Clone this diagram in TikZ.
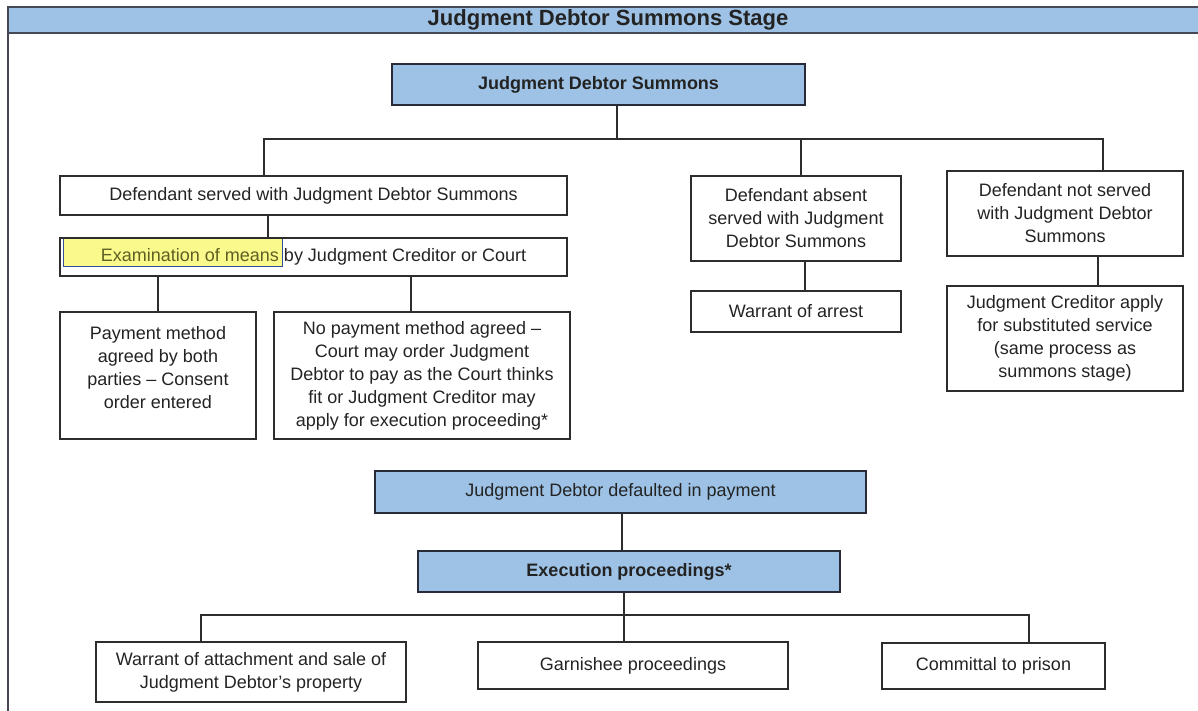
\documentclass[tikz,border=0pt]{standalone}
\usepackage{fontspec}
\setmainfont{Liberation Sans}
\definecolor{boxblue}{RGB}{157,194,229}
\definecolor{linec}{RGB}{45,45,45}
\definecolor{navy}{RGB}{40,44,58}
\definecolor{textc}{RGB}{35,35,35}
\definecolor{hlyellow}{RGB}{250,250,140}
\definecolor{hlborder}{RGB}{50,80,150}
\definecolor{hltext}{RGB}{95,95,35}
\definecolor{framec}{RGB}{70,72,85}
\begin{document}
\begin{tikzpicture}[x=1pt,y=-1pt,
  box/.style={draw=linec, line width=1.2pt, inner sep=0pt, align=center, text=textc,
              font=\fontsize{18}{23}\selectfont},
  bluebox/.style={box, draw=navy, line width=1.6pt, fill=boxblue},
  boldtext/.style={font=\fontsize{18}{23}\selectfont\bfseries},
  conn/.style={draw=linec, line width=1.2pt},
  titletext/.style={font=\fontsize{22}{26}\selectfont\bfseries, text=textc, inner sep=0pt}]
\useasboundingbox (0,0) rectangle (1198,711);
% frame and title bar
\fill[boxblue] (8,7) rectangle (1198,33);
\draw[framec, line width=2.5pt] (8,7) -- (1198,7);
\draw[framec, line width=2.5pt] (8,33) -- (1198,33);
\draw[framec, line width=2pt] (8,6) -- (8,711);
\node[titletext] (title) at (608,20) {Judgment Debtor Summons Stage};

% top
\node[bluebox, boldtext, minimum width=413pt, minimum height=41pt] (jds) at (598.5,84.5) {Judgment Debtor Summons};
\node[box, minimum width=507pt, minimum height=39pt] (served) at (313.5,195.5) {Defendant served with Judgment Debtor Summons};
\filldraw[fill=hlyellow, draw=hlborder, line width=1pt] (63,239) rectangle (282,266);
\node[box, minimum width=507pt, minimum height=38pt] (exam) at (313.5,257) {\textcolor{hltext}{Examination of means} by Judgment Creditor or Court};
\node[box, minimum width=196pt, minimum height=127pt] (pay) at (158,375.5) {\parbox[c][98pt][t]{190pt}{\centering Payment method\\agreed by both\\parties – Consent\\order entered}};
\node[box, minimum width=296pt, minimum height=127pt] (nopay) at (422,375.5) {No payment method agreed –\\Court may order Judgment\\Debtor to pay as the Court thinks\\fit or Judgment Creditor may\\apply for execution proceeding*};
\node[box, minimum width=210pt, minimum height=85pt] (absent) at (796,218.5) {Defendant absent\\served with Judgment\\Debtor Summons};
\node[box, minimum width=210pt, minimum height=41pt] (arrest) at (796,311.5) {Warrant of arrest};
\node[box, minimum width=236pt, minimum height=85pt] (notserved) at (1065,213.5) {Defendant not served\\with Judgment Debtor\\Summons};
\node[box, minimum width=236pt, minimum height=105pt] (jcapply) at (1065,338.5) {Judgment Creditor apply\\for substituted service\\(same process as\\summons stage)};

% bottom
\node[bluebox, minimum width=491pt, minimum height=42pt] (default) at (620.5,492) {Judgment Debtor defaulted in payment};
\node[bluebox, boldtext, minimum width=422pt, minimum height=41pt] (exec) at (629,571.5) {Execution proceedings*};
\node[box, minimum width=310pt, minimum height=60pt] (attach) at (251,672) {Warrant of attachment and sale of\\Judgment Debtor’s property};
\node[box, minimum width=310pt, minimum height=47pt] (garn) at (633,665.5) {Garnishee proceedings};
\node[box, minimum width=223pt, minimum height=46pt] (committal) at (993.5,666) {Committal to prison};

% connectors
\coordinate (jm) at (617,139);
\coordinate (j1) at (264,139);
\coordinate (j2) at (801,139);
\coordinate (j3) at (1103,139);
\draw[conn] (jds.south -| jm) -- (jm);
\draw[conn] (served.north -| j1) -- (j1) -- (j3) -- (notserved.north -| j3);
\draw[conn] (j2) -- (absent.north -| j2);
\draw[conn] ([xshift=-45.5pt]served.south) -- ([xshift=-45.5pt]served.south |- exam.north);
\draw[conn] (exam.south -| pay.north) -- (pay.north);
\draw[conn] ([xshift=-11pt]nopay.north |- exam.south) -- ([xshift=-11pt]nopay.north);
\draw[conn] ([xshift=9pt]absent.south) -- ([xshift=9pt]absent.south |- arrest.north);
\draw[conn] ([xshift=33pt]notserved.south) -- ([xshift=33pt]notserved.south |- jcapply.north);
\draw[conn] ([xshift=1.5pt]default.south) -- ([xshift=1.5pt]default.south |- exec.north);
\draw[conn] ([xshift=-5pt]exec.south) -- ([xshift=-5pt]exec.south |- garn.north);
\coordinate (k) at (0,615);
\draw[conn] ([xshift=-50pt]attach.north) -- ([xshift=-50pt]attach.north |- k) -| ([xshift=35.5pt]committal.north);
\end{tikzpicture}
\end{document}
